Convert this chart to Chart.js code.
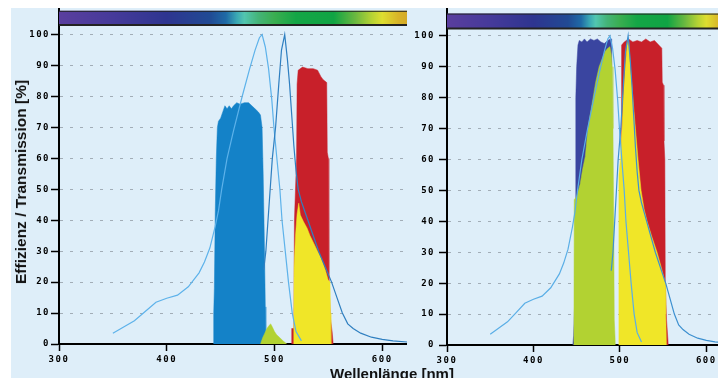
<!DOCTYPE html>
<html>
<head>
<meta charset="utf-8">
<script src="https://cdn.jsdelivr.net/npm/chart.js@4.4.1/dist/chart.umd.min.js"></script>
<style>
    html, body { margin: 0; padding: 0; width: 718px; height: 378px; overflow: hidden; background: #fff; }
    #bg { position: absolute; left: 11px; top: 8px; width: 707px; height: 370px; background: #deeef9; }
    canvas { position: absolute; top: 8px; }
    #left-chart { left: 11px; }
    #right-chart { left: 407px; }
    .axis-title { position: absolute; font-family: "Liberation Sans", Arial, sans-serif; font-weight: bold; color: #111; white-space: nowrap; }
    #y-title { left: 21px; top: 182px; font-size: 15.5px; transform: translate(-50%, -50%) rotate(-90deg); }
    #x-title { left: 330px; top: 366px; font-size: 15px; line-height: 15px; }
</style>
</head>
<body>
<div id="bg"></div>
<canvas id="left-chart" width="396" height="370"></canvas>
<canvas id="right-chart" width="311" height="370"></canvas>
<div class="axis-title" id="y-title">Effizienz / Transmission [%]</div>
<div class="axis-title" id="x-title">Wellenlänge [nm]</div>
<script>
// Anregungs- und Emissionsspektrum (in beiden Diagrammen gleich)
const exWl = [350, 360, 370, 380, 390, 400, 410, 420, 430, 435, 440, 445, 448, 451, 456, 462, 470, 477, 482, 486, 488.5, 491.5, 494.5, 497.5, 499.5, 502.5, 505, 507, 510, 513, 516.5, 520, 525];
const exVal = [3.5, 5.5, 7.5, 10.5, 13.5, 14.8, 15.8, 18.5, 23, 26.5, 31, 38, 43, 50, 60, 69, 80, 89, 95, 99, 100, 96, 89, 79, 70, 59, 50, 40, 30, 20, 10, 4, 1];
const emWl = [490, 492, 494, 496, 498, 501, 504, 506.5, 509.5, 512, 514, 516, 518, 520, 522, 525, 528, 531, 536, 541, 547, 553, 558, 563, 568, 573, 580, 590, 600, 610, 625];
const emVal = [24, 30, 40, 50, 60, 70, 84, 95, 100, 92, 84, 74, 64, 56, 50, 46, 43, 40, 35, 30, 25, 20, 15, 10, 6.5, 5, 3.5, 2.2, 1.5, 1, 0.6];

// linkes Diagramm
const exFilterLWl = [443, 443.6, 444.2, 445, 446, 447, 448, 450, 452, 454, 456, 458, 460, 462, 465, 468, 472, 476, 479, 482, 485, 487, 488.5, 489.5, 490.5, 491.5, 492];
const exFilterLVal = [0, 10, 18, 42, 60, 70, 72, 73, 75, 77, 76, 77, 76, 77, 78, 77.5, 78, 78, 77, 76, 75, 74, 70, 55, 35, 12, 0];
const exSignalLWl = [487, 489, 491, 493, 495, 496.5, 498, 500, 502, 505, 508, 511.5];
const exSignalLVal = [0, 2, 3.5, 5, 6, 6.5, 5.5, 4, 3, 2, 1, 0];
const emFilterLWl = [515.5, 516, 518, 518.5, 520.5, 521, 522, 526, 531, 536, 540, 543, 545, 548.5, 549, 550, 550.5, 552, 553.5, 554.5];
const emFilterLVal = [0, 5, 5, 40, 60, 84, 88.5, 89.5, 89, 89, 88.5, 86.5, 85.5, 84.5, 62, 60, 20, 8, 4, 0];
const emSignalLWl = [517.8, 518.2, 519.5, 521, 522.5, 524, 527, 530.3, 533, 536.4, 540, 542.6, 545, 547.2, 549.8, 551.5, 552, 552.4];
const emSignalLVal = [0, 25, 35, 42, 45.5, 41.7, 39.5, 37.4, 35, 32.6, 30, 28.2, 26, 23.9, 20.7, 20, 10, 0];

// rechtes Diagramm
const exFilterRWl = [445.5, 446.5, 447.5, 448.5, 449, 450, 451.5, 453, 456, 459, 462, 466, 470, 474, 478, 482, 486, 489, 490.5, 491];
const exFilterRVal = [0, 3, 12, 30, 80, 90, 97, 98.5, 98, 99, 98, 99, 98.5, 99, 98, 97.5, 98.5, 99, 99, 0];
const exSignalRWl = [446.8, 447.2, 450, 454, 457, 460, 463, 466, 469, 472, 476, 480, 483, 486, 488.5, 490, 491, 492, 492.8, 493.5, 494.8];
const exSignalRVal = [0, 47, 48, 52, 57, 61, 70, 75, 80, 85, 90, 93, 95, 96, 96.5, 94, 90, 70, 40, 8, 0];
const emFilterRWl = [500.5, 501.5, 502, 505, 510, 515, 520, 525, 530, 535, 540, 545, 548.5, 549, 550.5, 551, 552, 552.5, 554, 556];
const emFilterRVal = [0, 55, 97, 98, 99, 98, 98.5, 98, 99, 98, 98.5, 97, 96, 85, 84, 66, 60, 20, 8, 0];
const emSignalRWl = [498.5, 498.8, 500.6, 502.5, 504, 506.3, 508.3, 510, 512, 515, 518, 521, 524.5, 528, 531.5, 537, 543, 548, 552.5, 553, 554];
const emSignalRVal = [0, 55, 60, 70, 80, 90, 97, 99, 90, 80, 70, 60, 50, 44, 40, 35, 30, 25, 20, 10, 0];

const xTicks = [300, 400, 500, 600];
const yTicks = [0, 10, 20, 30, 40, 50, 60, 70, 80, 90, 100];

// Farbbalken oben
const specWl = [300, 350, 400, 440, 455, 465, 472, 485, 500, 520, 555, 575, 590, 600, 615, 625];
const specColor = ['#5a3e9e', '#463a9a', '#2e3590', '#214a94', '#1f6aa6', '#3aa8b4', '#52c6b0', '#44b478', '#3aae50', '#14a646', '#10a444', '#6ab840', '#b4d234', '#dede30', '#d8b428', '#d4a828'];

function points(wl, val) {
    return wl.map((w, i) => ({ x: w, y: val[i] }));
}

function area(label, wl, val, color) {
    return { label, data: points(wl, val), backgroundColor: color, borderColor: color, borderWidth: 0.5, fill: 'origin', pointRadius: 0, tension: 0 };
}

function curve(label, wl, val, color) {
    return { label, data: points(wl, val), borderColor: color, borderWidth: 1.2, fill: false, pointRadius: 0, tension: 0 };
}

const spectrumBar = {
    id: 'spectrumBar',
    beforeDraw(chart) {
        chart.ctx.letterSpacing = '1.5px';
    },
    beforeDatasetsDraw(chart, args, opts) {
        const { ctx, chartArea, scales: { x, y } } = chart;
        const top = y.getPixelForValue(opts.from);
        const bottom = y.getPixelForValue(opts.to);
        const grad = ctx.createLinearGradient(x.getPixelForValue(300), 0, x.getPixelForValue(625), 0);
        specWl.forEach((w, i) => grad.addColorStop((w - 300) / 325, specColor[i]));
        ctx.save();
        ctx.fillStyle = grad;
        ctx.fillRect(chartArea.left, top, chartArea.right - chartArea.left, bottom - top);
        ctx.strokeStyle = '#222';
        ctx.lineWidth = 1;
        ctx.beginPath();
        ctx.moveTo(chartArea.left, top + 0.5);
        ctx.lineTo(chartArea.right, top + 0.5);
        ctx.stroke();
        ctx.lineWidth = 2;
        ctx.beginPath();
        ctx.moveTo(chartArea.left, bottom);
        ctx.lineTo(chartArea.right, bottom);
        ctx.stroke();
        ctx.restore();
    }
};

function noPadding(s) {
    s.paddingTop = 0;
    s.paddingBottom = 0;
    s.paddingLeft = 0;
    s.paddingRight = 0;
}

function makeScales(xMax, yMax, yWidth, xHeight, labelPad) {
    const tickFont = { family: 'DejaVu Sans Mono', weight: 'bold', size: 9 };
    return {
        x: {
            type: 'linear', min: 300, max: xMax,
            afterFit: s => { s.height = xHeight; noPadding(s); },
            afterBuildTicks: s => { s.ticks = xTicks.map(v => ({ value: v })); },
            ticks: { color: '#000', font: tickFont, padding: 3, maxRotation: 0, autoSkip: false },
            grid: { drawOnChartArea: false, tickLength: 7, tickColor: '#000', tickWidth: 1.5 },
            border: { color: '#000', width: 2 }
        },
        y: {
            min: 0, max: yMax,
            afterFit: s => { s.width = yWidth; noPadding(s); },
            afterBuildTicks: s => { s.ticks = yTicks.map(v => ({ value: v })); },
            ticks: { color: '#000', font: tickFont, padding: labelPad, autoSkip: false },
            grid: { color: '#a2adb7', tickLength: 8, tickColor: '#000', tickWidth: 1.5, tickBorderDash: [] },
            border: { color: '#000', width: 2, dash: [3, 7] }
        }
    };
}

function makeChart(id, datasets, scales, bar) {
    return new Chart(document.getElementById(id), {
        type: 'line',
        data: { datasets },
        options: {
            responsive: false,
            animation: false,
            layout: { padding: 0 },
            plugins: { legend: { display: false }, tooltip: { enabled: false }, spectrumBar: bar },
            scales
        },
        plugins: [spectrumBar]
    });
}

makeChart('left-chart', [
    curve('Emission', emWl, emVal, '#2f7fc0'),
    curve('Anregung', exWl, exVal, '#5db2ea'),
    area('Emission gefiltert', emSignalLWl, emSignalLVal, '#f0e628'),
    area('Emissionsfilter', emFilterLWl, emFilterLVal, '#c8202a'),
    area('Anregung gefiltert', exSignalLWl, exSignalLVal, '#b2d232'),
    area('Anregungsfilter', exFilterLWl, exFilterLVal, '#1482c8')
], makeScales(623, 108.6, 48, 34, 1), { from: 107.7, to: 103.1 });

makeChart('right-chart', [
    curve('Emission', emWl, emVal, '#3d90d0'),
    curve('Anregung', exWl, exVal, '#5aaee6'),
    area('Emission gefiltert', emSignalRWl, emSignalRVal, '#f0e628'),
    area('Emissionsfilter', emFilterRWl, emFilterRVal, '#c8202a'),
    area('Anregung gefiltert', exSignalRWl, exSignalRVal, '#b2d232'),
    area('Anregungsfilter', exFilterRWl, exFilterRVal, '#3a45a0')
], makeScales(613.5, 109, 40, 33, 4), { from: 107.2, to: 102.4 });
</script>
</body>
</html>
